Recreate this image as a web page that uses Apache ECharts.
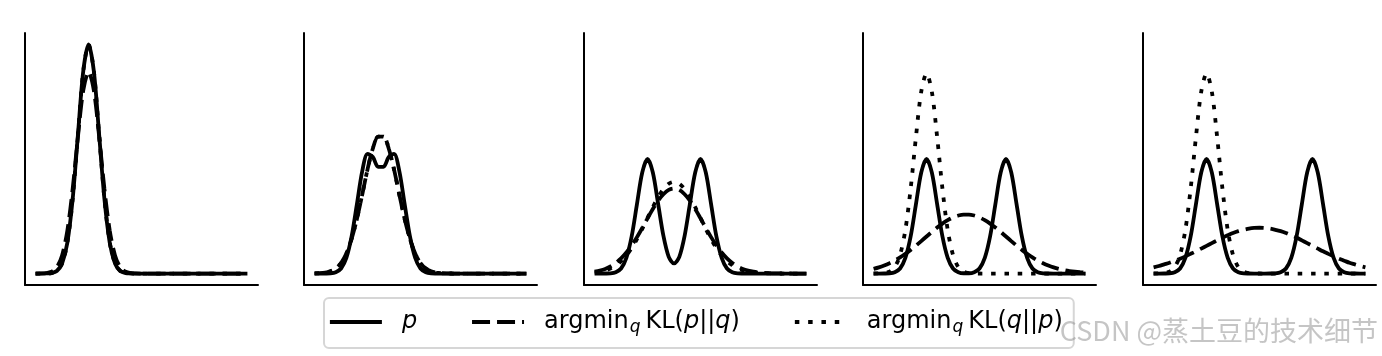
<!DOCTYPE html>
<html>
<head>
<meta charset="utf-8">
<script src="https://cdn.jsdelivr.net/npm/echarts@6/dist/echarts.min.js"></script>
<style>
html,body{margin:0;padding:0;background:#fff;}
#chart{width:1382px;height:356px;}
</style>
</head>
<body>
<div id="chart"></div>
<script>
// shared x grid (data units)
const xs = [-2,-1.8,-1.6,-1.4,-1.2,-1,-0.8,-0.6,-0.4,-0.2,0,0.2,0.4,0.6,0.8,1,1.2,1.4,1.6,1.8,2,2.2,2.4,2.6,2.8,3,3.2,3.4,3.6,3.8,4,4.2,4.4,4.6,4.8,5,5.2,5.4,5.6,5.8,6];

// panel 1
const p1  = [0,0,0.0003,0.002,0.011,0.044,0.135,0.325,0.607,0.883,1,0.883,0.607,0.325,0.135,0.044,0.011,0.002,0.0003,0,0,0,0,0,0,0,0,0,0,0,0,0,0,0,0,0,0,0,0,0,0];
const qf1 = [0,0.0004,0.002,0.008,0.027,0.079,0.188,0.369,0.598,0.799,0.88,0.799,0.598,0.369,0.188,0.079,0.027,0.008,0.002,0.0004,0,0,0,0,0,0,0,0,0,0,0,0,0,0,0,0,0,0,0,0,0];
const qr1 = [0,0,0.0003,0.002,0.011,0.044,0.135,0.325,0.607,0.883,1,0.883,0.607,0.325,0.135,0.044,0.011,0.002,0.0003,0,0,0,0,0,0,0,0,0,0,0,0,0,0,0,0,0,0,0,0,0,0];

// panel 2
const p2  = [0,0,0.0002,0.001,0.006,0.022,0.068,0.163,0.304,0.447,0.522,0.509,0.466,0.466,0.509,0.522,0.447,0.304,0.163,0.068,0.022,0.006,0.001,0.0002,0,0,0,0,0,0,0,0,0,0,0,0,0,0,0,0,0];
const qf2 = [0.0005,0.0014,0.004,0.010,0.022,0.046,0.087,0.152,0.239,0.345,0.455,0.546,0.598,0.598,0.546,0.455,0.345,0.239,0.152,0.087,0.046,0.022,0.010,0.004,0.0014,0.0005,0.0001,0,0,0,0,0,0,0,0,0,0,0,0,0,0];
const qr2 = [0.0005,0.0014,0.004,0.010,0.022,0.046,0.087,0.152,0.239,0.345,0.455,0.546,0.598,0.598,0.546,0.455,0.345,0.239,0.152,0.087,0.046,0.022,0.010,0.004,0.0014,0.0005,0.0001,0,0,0,0,0,0,0,0,0,0,0,0,0,0];

// panel 3
const p3  = [0,0,0.0002,0.001,0.006,0.022,0.068,0.162,0.303,0.441,0.5,0.441,0.304,0.164,0.073,0.044,0.073,0.164,0.304,0.441,0.5,0.441,0.303,0.162,0.068,0.022,0.006,0.001,0.0002,0,0,0,0,0,0,0,0,0,0,0,0];
const qf3 = [0.008,0.013,0.020,0.031,0.046,0.066,0.092,0.123,0.159,0.199,0.241,0.282,0.318,0.346,0.365,0.371,0.365,0.346,0.318,0.282,0.241,0.199,0.159,0.123,0.092,0.066,0.046,0.031,0.020,0.013,0.008,0.0045,0.0025,0.0014,0.0007,0.0004,0.0002,0.0001,0,0,0];
const qr3 = [0.0044,0.008,0.014,0.022,0.036,0.054,0.079,0.111,0.150,0.195,0.243,0.290,0.334,0.369,0.392,0.400,0.392,0.369,0.334,0.290,0.243,0.195,0.150,0.111,0.079,0.054,0.036,0.022,0.014,0.008,0.0044,0.0024,0.0012,0.0006,0.0003,0.0001,0,0,0,0,0];

// panel 4
const p4  = [0,0,0.0002,0.001,0.006,0.022,0.068,0.162,0.303,0.441,0.5,0.441,0.303,0.162,0.068,0.022,0.006,0.0013,0.0013,0.006,0.022,0.068,0.162,0.303,0.441,0.5,0.441,0.303,0.162,0.068,0.022,0.006,0.001,0.0002,0,0,0,0,0,0,0];
const qf4 = [0.0203,0.0269,0.0351,0.0451,0.0569,0.0705,0.0861,0.1033,0.1220,0.1416,0.1618,0.1817,0.2007,0.2181,0.2330,0.2450,0.2532,0.2575,0.2575,0.2532,0.2450,0.2330,0.2181,0.2007,0.1817,0.1618,0.1416,0.1220,0.1033,0.0861,0.0705,0.0569,0.0451,0.0351,0.0269,0.0203,0.0151,0.0110,0.0079,0.0056,0.0039];
const qr4 = [0.0001,0.0004,0.002,0.008,0.028,0.081,0.190,0.371,0.596,0.794,0.873,0.794,0.596,0.371,0.190,0.081,0.028,0.008,0.002,0.0004,0.0001,0,0,0,0,0,0,0,0,0,0,0,0,0,0,0,0,0,0,0,0];

// panel 5
const p5  = [0,0,0.0002,0.001,0.006,0.022,0.068,0.162,0.303,0.441,0.5,0.441,0.303,0.162,0.068,0.022,0.006,0.001,0.0002,0,0,0,0.0002,0.001,0.006,0.022,0.068,0.162,0.303,0.441,0.5,0.441,0.303,0.162,0.068,0.022,0.006,0.001,0.0002,0,0];
const qf5 = [0.027,0.033,0.040,0.047,0.056,0.065,0.075,0.086,0.097,0.109,0.121,0.133,0.145,0.157,0.167,0.177,0.185,0.191,0.196,0.199,0.200,0.199,0.196,0.191,0.185,0.177,0.167,0.157,0.145,0.133,0.121,0.109,0.097,0.086,0.075,0.065,0.056,0.047,0.040,0.033,0.027];
const qr5 = [0.0001,0.0004,0.002,0.008,0.028,0.081,0.190,0.371,0.596,0.794,0.873,0.794,0.596,0.371,0.190,0.081,0.028,0.008,0.002,0.0004,0.0001,0,0,0,0,0,0,0,0,0,0,0,0,0,0,0,0,0,0,0,0];

const seriesNames = ['p', 'fwd', 'rev'];
const legendText = {
  p: '{i|p}',
  fwd: '{n|argmin}{s|q}{n|KL(}{i|p}{n|||}{i|q}{n|)}',
  rev: '{n|argmin}{s|q}{n|KL(}{i|q}{n|||}{i|p}{n|)}'
};
const watermark = 'CSDN @蒸土豆的技术细节';

const panels = [[p1,qf1,qr1],[p2,qf2,qr2],[p3,qf3,qr3],[p4,qf4,qr4],[p5,qf5,qr5]];
const lefts = [25, 304, 584, 863, 1143];
const dashTypes = ['solid', [18, 7], [4.5, 8.8]];

const grids = [], xAxes = [], yAxes = [], series = [];
lefts.forEach((l, gi) => {
  grids.push({left: l, top: 33, width: 233, height: 252});
  const axisCommon = {
    gridIndex: gi, type: 'value',
    axisLine: {show: true, onZero: false, lineStyle: {color: '#000', width: 2}},
    axisTick: {show: false}, axisLabel: {show: false}, splitLine: {show: false}
  };
  xAxes.push(Object.assign({min: -2.4, max: 6.4}, axisCommon));
  yAxes.push(Object.assign({min: -0.05, max: 1.05}, axisCommon));
  panels[gi].forEach((arr, si) => {
    series.push({
      type: 'line', name: seriesNames[si],
      xAxisIndex: gi, yAxisIndex: gi,
      data: xs.map((x, k) => [x, arr[k]]),
      symbol: 'none', showSymbol: false, smooth: 0.3,
      lineStyle: {color: '#000', width: 3.8, type: dashTypes[si]},
      itemStyle: {color: '#000'},
      z: 2 + si
    });
  });
});

const chart = echarts.init(document.getElementById('chart'), null, {renderer: 'canvas'});
chart.setOption({
  animation: false,
  backgroundColor: '#fff',
  grid: grids, xAxis: xAxes, yAxis: yAxes, series: series,
  legend: {
    data: seriesNames,
    left: 324, top: 298,
    orient: 'horizontal',
    itemWidth: 52, itemHeight: 14, itemGap: 53,
    padding: [12, 11, 12, 4],
    borderColor: '#d6d6d6', borderWidth: 2, borderRadius: 5,
    backgroundColor: '#fff',
    selectedMode: false,
    itemStyle: {opacity: 0},
    lineStyle: {width: 3.8},
    formatter: name => legendText[name],
    textStyle: {
      padding: [0, 0, 0, 15],
      rich: {
        n: {fontFamily: 'DejaVu Sans', fontSize: 24, color: '#000', lineHeight: 28},
        i: {fontFamily: 'DejaVu Sans', fontStyle: 'italic', fontSize: 24, color: '#000', lineHeight: 28},
        s: {fontFamily: 'DejaVu Sans', fontStyle: 'italic', fontSize: 17, color: '#000', lineHeight: 17, verticalAlign: 'bottom', padding: [0, 5, 0, 1]}
      }
    }
  },
  graphic: [{
    type: 'text', right: 4, top: 317, z: 100,
    style: {text: watermark, fontSize: 27, fontFamily: 'Noto Sans CJK SC', fill: 'rgba(150,150,150,0.55)'}
  }]
});
</script>
</body>
</html>
